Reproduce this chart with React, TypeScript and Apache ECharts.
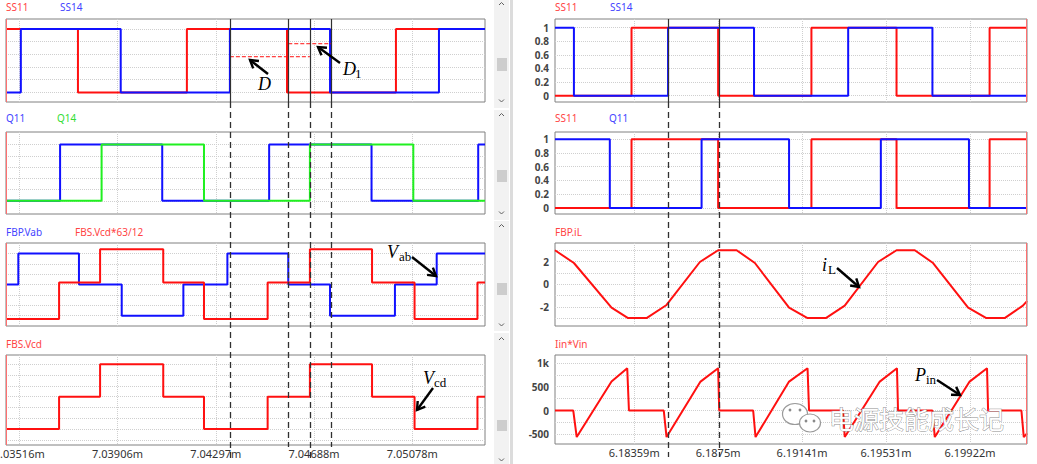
import React, { useEffect, useRef } from "react";
import * as echarts from "echarts";

// ---------- axes (time in ms) ----------
const leftXMin = 7.03463;
const leftXMax = 7.05367;
const leftTicks = [7.03515625, 7.0390625, 7.04296875, 7.046875, 7.05078125];
const rightXMin = 6.17991;
const rightXMax = 6.20187;
const rightTicks = [6.18359375, 6.1875, 6.19140625, 6.1953125, 6.19921875];

// ---------- left side data: [time, level] (level held until next time) ----------
const ss11Left = [[7.03463, 1], [7.03749, 0], [7.04182, 1], [7.0458, 0], [7.05013, 1], [7.05367, 1]];
const ss14Left = [[7.03463, 0], [7.03522, 1], [7.03919, 0], [7.04353, 1], [7.04751, 0], [7.05184, 1], [7.05367, 1]];
const q11Left = [[7.03463, 0], [7.03678, 1], [7.04084, 0], [7.04509, 1], [7.04916, 0], [7.0534, 1], [7.05367, 1]];
const q14Left = [[7.03463, 0], [7.03843, 1], [7.0425, 0], [7.04671, 1], [7.05082, 0], [7.05367, 0]];
const vabLeft = [[7.03463, 0], [7.03512, 300], [7.03753, 0], [7.03923, -300], [7.04168, 0], [7.04343, 300], [7.04585, 0], [7.04751, -300], [7.05009, 0], [7.05175, 300], [7.05367, 300]];
const vcdScaledLeft = [[7.03463, -333], [7.03674, 20], [7.03837, 340], [7.04088, 20], [7.0425, -333], [7.04503, 20], [7.04671, 340], [7.04918, 20], [7.05087, -333], [7.05337, 20], [7.05367, 20]];
const vcdLeft = [[7.03463, -60], [7.03674, 0], [7.03837, 60], [7.04088, 0], [7.0425, -60], [7.04503, 0], [7.04671, 60], [7.04918, 0], [7.05087, -60], [7.05337, 0], [7.05367, 0]];
const dLine = [[7.04353, 0.563], [7.04671, 0.563]];
const d1Line = [[7.04585, 0.768], [7.04755, 0.768]];
const cursorsLeft = [7.04353, 7.04585, 7.04671, 7.04755];
const cursorLeftEnds = [458, 447, 458, 447];

// ---------- right side data ----------
const ss11Right = [[6.17991, 0], [6.18347, 1], [6.1875, 0], [6.19184, 1], [6.1958, 0], [6.20013, 1], [6.20187, 1]];
const ss14Right = [[6.17991, 1], [6.18079, 0], [6.18517, 1], [6.18917, 0], [6.19355, 1], [6.19747, 0], [6.20187, 0]];
const q11Right = [[6.17991, 1], [6.18246, 0], [6.18673, 1], [6.1908, 0], [6.19507, 1], [6.19917, 0], [6.20187, 0]];
const iLRight = [
  [6.17991, 3.0], [6.18079, 1.87], [6.18254, -2.08], [6.18331, -3.0], [6.18417, -3.0], [6.1851, -1.84],
  [6.18665, 1.96], [6.1875, 3.0], [6.18836, 3.0], [6.18921, 1.87], [6.1908, -2.08], [6.19166, -3.0],
  [6.19251, -3.0], [6.19339, -1.9], [6.19494, 1.96], [6.1958, 3.0], [6.19665, 3.0], [6.1975, 1.87],
  [6.19913, -2.08], [6.19998, -3.0], [6.20083, -3.0], [6.20168, -1.9], [6.20187, -1.5],
];
const pinRight = [
  [6.17991, 0], [6.18076, 0], [6.18092, -557], [6.18254, 607], [6.18327, 887], [6.18335, 0],
  [6.18497, 0], [6.1851, -557], [6.18668, 607], [6.1875, 887], [6.18755, 0],
  [6.18913, 0], [6.18924, -557], [6.1908, 607], [6.19166, 887], [6.19173, 0],
  [6.19331, 0], [6.19339, -557], [6.19502, 607], [6.19582, 887], [6.19587, 0],
  [6.19747, 0], [6.19758, -557], [6.1992, 607], [6.20001, 887], [6.20006, 0],
  [6.20161, 0], [6.20172, -557], [6.20187, -480],
];
const cursorsRight = [6.18516, 6.18752];

// ---------- y axis ranges & ticks ----------
const yMin = [-0.151, -0.235, -400, -89.4, -0.093, -0.087, -3.7, -703];
const yMax = [1.158, 1.222, 400, 77.2, 1.128, 1.105, 3.64, 1165];
const unitTicks = [0, 0.2, 0.4, 0.6, 0.8, 1];
const yTicks = [
  unitTicks, unitTicks, [-300, -200, -100, 0, 100, 200, 300], [-80, -60, -40, -20, 0, 20, 40, 60],
  unitTicks, unitTicks, [-3, -2, -1, 0, 1, 2, 3], [-500, -250, 0, 250, 500, 750, 1000],
];
const yLabelValues = [null, null, null, null, unitTicks, unitTicks, [-2, 0, 2], [-500, 0, 500, 1000]];

// ---------- legends ----------
const legendItems = [
  { text: "SS11", x: 6, y: 7, c: "#ff4444" }, { text: "SS14", x: 60, y: 7, c: "#4444ff" },
  { text: "Q11", x: 6, y: 118, c: "#4444ff" }, { text: "Q14", x: 57, y: 118, c: "#33dd33" },
  { text: "FBP.Vab", x: 6, y: 231.5, c: "#4444ff" }, { text: "FBS.Vcd*63/12", x: 75, y: 231.5, c: "#ff4444" },
  { text: "FBS.Vcd", x: 6, y: 343.5, c: "#ff4444" },
  { text: "SS11", x: 555, y: 7, c: "#ff4444" }, { text: "SS14", x: 610, y: 7, c: "#4444ff" },
  { text: "SS11", x: 555, y: 118, c: "#ff4444" }, { text: "Q11", x: 609, y: 118, c: "#4444ff" },
  { text: "FBP.iL", x: 555, y: 231.5, c: "#ff4444" },
  { text: "Iin*Vin", x: 555, y: 343.5, c: "#ff4444" },
];

// ---------- layout ----------
const LX = 6, LW = 479, RX = 555, RW = 472;
const TOPS = [19, 132, 243, 355];
const HL = [83, 82, 83, 90];
const HR = [83, 82, 83, 89];

const RED = "#ff1010";
const BLUE = "#1010ff";
const GREEN = "#20f020";
const FONT = "Noto Sans";

function fmtTime(v: number) {
  return `${parseFloat(v.toFixed(5))}m`;
}

function buildOption() {
  const grid: any[] = [];
  const xAxis: any[] = [];
  const yAxis: any[] = [];
  for (let i = 0; i < 8; i++) {
    const left = i < 4;
    const r = i % 4;
    grid.push({
      left: left ? LX : RX,
      top: TOPS[r],
      width: left ? LW : RW,
      height: left ? HL[r] : HR[r],
      show: true,
      borderColor: "#808080",
      borderWidth: 1,
      backgroundColor: "#ffffff",
    });
    const ticks = left ? leftTicks : rightTicks;
    xAxis.push({
      type: "value",
      gridIndex: i,
      min: left ? leftXMin : rightXMin,
      max: left ? leftXMax : rightXMax,
      axisLine: { show: false },
      axisTick: { show: false, customValues: ticks },
      axisLabel: {
        show: r === 3,
        // the first left label is clipped by the page edge; it is drawn separately below
        customValues: left ? ticks.slice(1) : ticks,
        formatter: (v: number) => fmtTime(v),
        fontFamily: FONT,
        fontSize: 11,
        color: "#333",
        margin: 3,
        hideOverlap: false,
      },
      splitLine: { show: true, lineStyle: { color: "#cfcfcf", type: "dotted", width: 1 } },
    });
    const lab = yLabelValues[i];
    yAxis.push({
      type: "value",
      gridIndex: i,
      min: yMin[i],
      max: yMax[i],
      axisLine: { show: false },
      axisTick: { show: false, customValues: yTicks[i] },
      axisLabel: lab
        ? {
            show: true,
            customValues: lab,
            formatter: (v: number) => (v === 1000 ? "1k" : String(v)),
            fontFamily: FONT,
            fontSize: 10,
            fontWeight: "bold",
            color: "#444",
            margin: 6,
          }
        : { show: false },
      splitLine: { show: true, lineStyle: { color: "#cfcfcf", type: "dotted", width: 1 } },
    });
  }

  const mk = (idx: number, data: number[][], color: string, step: boolean, z = 2, dashed = false, width = 2) => ({
    type: "line",
    xAxisIndex: idx,
    yAxisIndex: idx,
    data,
    step: step ? "end" : false,
    showSymbol: false,
    symbol: "none",
    silent: true,
    clip: true,
    z,
    lineStyle: { color, width, type: dashed ? "dashed" : "solid" },
    itemStyle: { color },
  });

  const series = [
    mk(0, ss11Left, RED, true, 2),
    mk(0, ss14Left, BLUE, true, 3),
    mk(0, dLine, RED, false, 4, true, 1),
    mk(0, d1Line, RED, false, 4, true, 1),
    mk(1, q11Left, BLUE, true, 2),
    mk(1, q14Left, GREEN, true, 3),
    mk(2, vabLeft, BLUE, true, 2),
    mk(2, vcdScaledLeft, RED, true, 3),
    mk(3, vcdLeft, RED, true, 2),
    mk(4, ss11Right, RED, true, 2),
    mk(4, ss14Right, BLUE, true, 3),
    mk(5, ss11Right, RED, true, 2),
    mk(5, q11Right, BLUE, true, 3),
    mk(6, iLRight, RED, false, 2),
    mk(7, pinRight, RED, false, 2),
  ];

  return { animation: false, backgroundColor: "#ffffff", grid, xAxis, yAxis, series };
}

function arrow(x1: number, y1: number, x2: number, y2: number): any[] {
  const a = Math.atan2(y2 - y1, x2 - x1);
  const s = 9;
  const p1 = [x2 - s * Math.cos(a - 0.55), y2 - s * Math.sin(a - 0.55)];
  const p2 = [x2 - s * Math.cos(a + 0.55), y2 - s * Math.sin(a + 0.55)];
  return [
    { type: "line", z: 100, shape: { x1, y1, x2, y2 }, style: { stroke: "#000", lineWidth: 2.4 } },
    { type: "polyline", z: 100, shape: { points: [p1, [x2, y2], p2] }, style: { stroke: "#000", lineWidth: 2.4, fill: null, lineJoin: "miter" } },
  ];
}

function txt(text: string, x: number, y: number, font: string, fill: string, extra: any = {}) {
  return {
    type: "text",
    z: 100,
    style: { text, x, y, font, fill, align: "left", verticalAlign: "middle", textAlign: "left", textVerticalAlign: "middle", ...extra },
  };
}

function buildGraphics(chart: any): any[] {
  const g: any[] = [];
  // divider and scrollbars
  g.push({ type: "rect", z: 50, shape: { x: 510, y: 0, width: 3, height: 464 }, style: { fill: "#dcdcdc" } });
  const tracks = [[0, 108], [110, 110], [221, 110], [333, 131]];
  const thumbs = [[58, 13], [170, 12], [283, 12], [420, 11]];
  const ups = [3, 114, 225, 338];
  const downs = [101, 213, 325, 460];
  for (let i = 0; i < 4; i++) {
    g.push({ type: "rect", z: 50, shape: { x: 494, y: tracks[i][0], width: 15, height: tracks[i][1] }, style: { fill: "#f2f2f2" } });
    g.push({ type: "rect", z: 51, shape: { x: 497, y: thumbs[i][0], width: 10, height: thumbs[i][1] }, style: { fill: "#cdcdcd" } });
    const u = ups[i];
    g.push({ type: "polyline", z: 51, shape: { points: [[499, u + 2], [501.5, u - 0.5], [504, u + 2]] }, style: { stroke: "#606060", lineWidth: 1, fill: null } });
    const d = downs[i];
    g.push({ type: "polyline", z: 51, shape: { points: [[499, d - 1.5], [501.5, d + 1], [504, d - 1.5]] }, style: { stroke: "#606060", lineWidth: 1, fill: null } });
  }
  // cursor edge lines (red)
  for (let i = 0; i < 4; i++) {
    g.push({ type: "line", z: 60, shape: { x1: LX + 0.5, y1: TOPS[i], x2: LX + 0.5, y2: TOPS[i] + HL[i] }, style: { stroke: "#ff7070", lineWidth: 1 } });
    g.push({ type: "line", z: 60, shape: { x1: RX + RW - 0.5, y1: TOPS[i], x2: RX + RW - 0.5, y2: TOPS[i] + HR[i] }, style: { stroke: "#ff7070", lineWidth: 1 } });
  }
  // first left tick label, positioned through the axis scale (partly outside the page)
  const firstX = chart.convertToPixel({ xAxisIndex: 3 }, leftTicks[0]);
  g.push({
    type: "text",
    z: 100,
    style: {
      text: fmtTime(leftTicks[0]),
      x: firstX,
      y: TOPS[3] + HL[3] + 3,
      font: `11px '${FONT}'`,
      fill: "#333",
      align: "center",
      verticalAlign: "top",
      textAlign: "center",
      textVerticalAlign: "top",
    },
  });
  // cursor lines
  const addCursor = (x: number, yEnd: number) => {
    g.push({ type: "line", z: 90, shape: { x1: x, y1: TOPS[0], x2: x, y2: TOPS[0] + HL[0] }, style: { stroke: "#303030", lineWidth: 1.2 } });
    g.push({ type: "line", z: 90, shape: { x1: x, y1: TOPS[0] + HL[0], x2: x, y2: yEnd }, style: { stroke: "#303030", lineWidth: 1.3, lineDash: [6, 4] } });
  };
  cursorsLeft.forEach((t, i) => {
    const x = Math.round(chart.convertToPixel({ xAxisIndex: 0 }, t)) + 0.5;
    addCursor(x, cursorLeftEnds[i]);
  });
  cursorsRight.forEach((t) => {
    const x = Math.round(chart.convertToPixel({ xAxisIndex: 4 }, t)) + 0.5;
    addCursor(x, 457);
  });
  // legends
  legendItems.forEach((l) => g.push(txt(l.text, l.x, l.y, `10px '${FONT}'`, l.c)));
  // annotations
  const serif = "'Liberation Serif', 'DejaVu Serif', serif";
  const main = `italic 18px ${serif}`;
  const sub = `13px ${serif}`;
  g.push(txt("D", 258, 84, main, "#000"));
  g.push(txt("D", 343, 69, main, "#000"));
  g.push(txt("1", 355, 73, sub, "#000"));
  g.push(txt("V", 387, 252, main, "#000"));
  g.push(txt("ab", 399, 256, sub, "#000"));
  g.push(txt("V", 423, 378, main, "#000"));
  g.push(txt("cd", 434, 382, sub, "#000"));
  g.push(txt("i", 822, 265, main, "#000"));
  g.push(txt("L", 828, 269, sub, "#000"));
  g.push(txt("P", 915, 375, main, "#000"));
  g.push(txt("in", 926, 379, sub, "#000"));
  g.push(...arrow(268, 74, 250, 60));
  g.push(...arrow(340, 63, 318, 47));
  g.push(...arrow(412, 257, 436, 276));
  g.push(...arrow(433, 388, 417, 410));
  g.push(...arrow(837, 268, 859, 287));
  g.push(...arrow(937, 380, 960, 395));
  // watermark
  g.push({ type: "ellipse", z: 110, shape: { cx: 795, cy: 414, rx: 12.5, ry: 10.5 }, style: { fill: "#ffffff", stroke: "#9a9a9a", lineWidth: 1.2 } });
  g.push({ type: "ellipse", z: 111, shape: { cx: 810, cy: 423, rx: 10.5, ry: 9 }, style: { fill: "#ffffff", stroke: "#9a9a9a", lineWidth: 1.2 } });
  [[790, 410], [800, 410], [806, 421], [814, 421]].forEach((p) =>
    g.push({ type: "circle", z: 112, shape: { cx: p[0], cy: p[1], r: 1.4 }, style: { fill: "#8a8a8a" } })
  );
  g.push(txt("电源技能成长记", 829, 418, "25px 'Noto Sans CJK SC'", "#ffffff", { stroke: "#8c8c8c", lineWidth: 0.9 }));
  return g;
}

export default function App() {
  const ref = useRef<HTMLDivElement>(null);
  useEffect(() => {
    const chart = echarts.init(ref.current!, null, { renderer: "svg" });
    chart.setOption(buildOption());
    chart.setOption({ graphic: buildGraphics(chart) });
    return () => chart.dispose();
  }, []);
  return (
    <div
      ref={ref}
      style={{ position: "fixed", left: 0, top: 0, width: 1037, height: 464, background: "#ffffff" }}
    />
  );
}
